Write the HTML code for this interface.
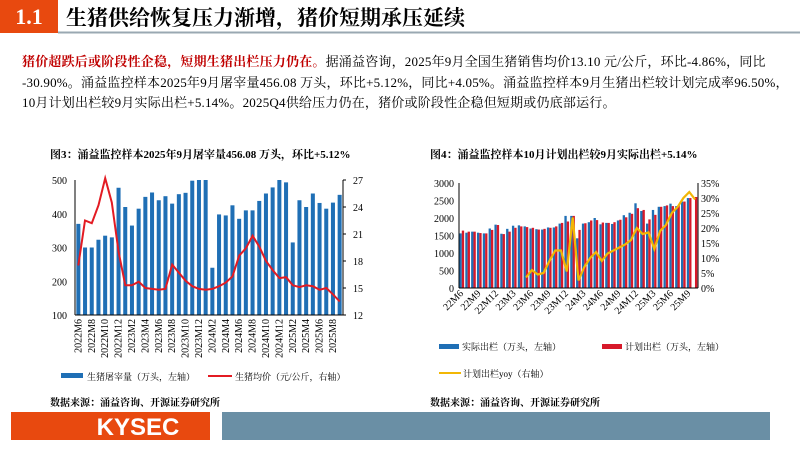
<!DOCTYPE html>
<html><head><meta charset="utf-8"><style>
body{margin:0;width:800px;height:450px;overflow:hidden;background:#fff;font-family:"Liberation Serif","Noto Serif CJK SC",serif}
svg text{font-family:"Liberation Serif","Noto Serif CJK SC",serif}
</style></head><body>
<svg id="s" width="800" height="450" xmlns="http://www.w3.org/2000/svg">
<rect x="0" y="0" width="58" height="33" fill="#e8490f"/>
<text x="29" y="24" font-size="22" font-weight="bold" fill="#fff" text-anchor="middle">1.1</text>
<text x="66" y="25" font-size="21" font-weight="bold" fill="#000">生猪供给恢复压力渐增，猪价短期承压延续</text>
<line x1="58" y1="32.5" x2="800" y2="32.5" stroke="#9aa8b2" stroke-width="2"/>
<g font-size="13" letter-spacing="0.2">
<text x="22" y="66"><tspan fill="#c00000" font-weight="bold">猪价超跌后或阶段性企稳，短期生猪出栏压力仍在。</tspan>据涌益咨询，2025年9月全国生猪销售均价13.10 元/公斤，环比-4.86%，同比</text>
<text x="22" y="87">-30.90%。涌益监控样本2025年9月屠宰量456.08 万头，环比+5.12%，同比+4.05%。涌益监控样本9月生猪出栏较计划完成率96.50%，</text>
<text x="22" y="107">10月计划出栏较9月实际出栏+5.14%。2025Q4供给压力仍在，猪价或阶段性企稳但短期或仍底部运行。</text>
</g>
<text x="50" y="158" font-size="11" font-weight="bold">图3：涌益监控样本2025年9月屠宰量456.08 万头，环比+5.12%</text>
<text x="430" y="158" font-size="11" font-weight="bold">图4：涌益监控样本10月计划出栏较9月实际出栏+5.14%</text>
<g id="L"></g><g id="R"></g>
<text x="50" y="406" font-size="10" font-weight="bold">数据来源：涌益咨询、开源证券研究所</text>
<text x="430" y="406" font-size="10" font-weight="bold">数据来源：涌益咨询、开源证券研究所</text>
<rect x="11" y="412" width="199" height="28" fill="#e8490f"/>
<text x="138" y="435" font-size="24" font-weight="bold" fill="#fff" text-anchor="middle" style="font-family:'Liberation Sans',sans-serif">KYSEC</text>
<rect x="222" y="412" width="548" height="28" fill="#6a8fa5"/>
</svg>
<script>
const leftMonths=[];for(let y=2022,m=6;!(y==2025&&m==10);){leftMonths.push(y+"M"+m);m++;if(m>12){m=1;y++;}}
const slaughter=[370,300,300,323,335,330,477,420,365,415,450,463,440,452,430,458,462,498,500,500,240,398,395,425,385,410,410,438,460,478,500,493,315,440,420,460,432,415,433,456];
const hogPrice=[17.5,22.5,22.2,24.2,27.2,24.5,19,15.3,15.3,15.7,15,14.9,14.8,14.9,17.6,16.7,15.8,15.2,14.9,14.8,14.9,15.2,15.6,16.3,18.6,19.4,20.8,19.6,18,17,16.1,16.2,15.3,15.1,15.3,15.2,14.8,15,14.3,13.5];
const leftTicks=[100,200,300,400,500];const rightTicks=[12,15,18,21,24,27];
const rightMonths=[];for(let y=22,m=6;!(y==25&&m==11);){rightMonths.push(y+"M"+m);m++;if(m>12){m=1;y++;}}
const actualOut=[1560,1580,1610,1580,1560,1700,1810,1550,1690,1780,1790,1760,1700,1680,1670,1730,1730,1840,2060,2060,1420,1840,1880,2000,1820,1860,1830,1930,2080,2150,2420,2200,1840,2230,2320,2340,2410,2340,2470,2570,null];
const planOut=[1640,1610,1610,1570,1560,1660,1800,1540,1610,1720,1760,1740,1720,1670,1690,1720,1760,1860,1900,2060,1660,1850,1930,1940,1870,1860,1880,1950,2020,2120,2280,2230,1960,2090,2320,2360,2340,2360,2470,2570,2600];
const planYoy=[null,null,null,null,null,null,null,null,null,null,null,3.5,6,4.5,5,9,12.5,12.5,5.5,23.5,2.5,7,10,12,9,11.5,12.5,13.5,14.5,16,20,18,18.5,13,19,21,25,27,30,32,29.5];
const rTicksL=[0,500,1000,1500,2000,2500,3000];const rTicksR=[0,5,10,15,20,25,30,35];
const NS="http://www.w3.org/2000/svg";
function mk(p,t,a,txt){const e=document.createElementNS(NS,t);for(const k in a)e.setAttribute(k,a[k]);if(txt!=null)e.textContent=txt;p.appendChild(e);return e;}
const L=document.getElementById('L');
const lx0=75,lx1=343,ly0=180,ly1=315;
const lbw=(lx1-lx0)/leftMonths.length;
const lX=i=>lx0+lbw*(i+0.5);
const lY=v=>ly1-(Math.min(v,500)-100)/400*(ly1-ly0);
const lY2=v=>ly1-(v-12)/15*(ly1-ly0);
leftTicks.forEach(t=>{const e=mk(L,'text',{x:lx0-8,y:lY(t)+4,'font-size':10,'text-anchor':'end'},t);

});
rightTicks.forEach(t=>{const e=mk(L,'text',{x:lx1+10,y:lY2(t)+4,'font-size':10},t);


mk(L,'line',{x1:lx1,x2:lx1+3,y1:lY2(t),y2:lY2(t),stroke:'#000'});});
slaughter.forEach((v,i)=>{const e=mk(L,'rect',{x:lX(i)-lbw*0.3,y:lY(v),width:lbw*0.6,height:ly1-lY(v),fill:'#1f6fb5'});

});
let d=hogPrice.map((v,i)=>(i?'L':'M')+lX(i).toFixed(1)+' '+lY2(v).toFixed(1)).join(' ');
const pl=mk(L,'path',{d:d,fill:'none',stroke:'#e31b23','stroke-width':2});


mk(L,'line',{x1:lx0,x2:lx0,y1:ly0,y2:ly1,stroke:'#000'});
mk(L,'line',{x1:lx1,x2:lx1,y1:ly0,y2:ly1,stroke:'#000'});
mk(L,'line',{x1:lx0,x2:lx1,y1:ly1,y2:ly1,stroke:'#000'});
leftMonths.forEach((m,i)=>{if(i%2)return;const x=lX(i)+3;const e=mk(L,'text',{x:x,y:ly1+4,'font-size':10,'text-anchor':'end',transform:`rotate(-90 ${x} ${ly1+4})`},m);

});
let g=mk(L,'g',{});
mk(g,'rect',{x:61,y:373,width:22,height:5,fill:'#1f6fb5'});mk(g,'text',{x:87,y:380,'font-size':9},'生猪屠宰量（万头，左轴）');
mk(g,'line',{x1:208,x2:232,y1:376,y2:376,stroke:'#e31b23','stroke-width':2});mk(g,'text',{x:235,y:380,'font-size':9},'生猪均价（元/公斤，右轴）');
const R=document.getElementById('R');
const rx0=459,rx1=698,ry0=183,ry1=288;
const rbw=(rx1-rx0)/rightMonths.length;
const rX=i=>rx0+rbw*(i+0.5);
const rY=v=>ry1-v/3000*(ry1-ry0);
const rY2=v=>ry1-v/35*(ry1-ry0);
rTicksL.forEach(t=>{const e=mk(R,'text',{x:rx0-5,y:rY(t)+4,'font-size':10,'text-anchor':'end'},t);

});
rTicksR.forEach(t=>{const e=mk(R,'text',{x:rx1+3,y:rY2(t)+4,'font-size':10},t+'%');

});
actualOut.forEach((v,i)=>{if(v==null)return;const e=mk(R,'rect',{x:rX(i)-rbw*0.42,y:rY(v),width:rbw*0.4,height:ry1-rY(v),fill:'#1f6fb5'});

});
planOut.forEach((v,i)=>{const e=mk(R,'rect',{x:rX(i)-rbw*0.02,y:rY(v),width:rbw*0.4,height:ry1-rY(v),fill:'#d7192a'});

});
let pts=[];planYoy.forEach((v,i)=>{if(v!=null)pts.push(rX(i).toFixed(1)+' '+rY2(v).toFixed(1));});
const yl=mk(R,'path',{d:'M'+pts.join(' L'),fill:'none',stroke:'#f2b705','stroke-width':2.2});


mk(R,'line',{x1:rx0,x2:rx0,y1:ry0,y2:ry1,stroke:'#000'});
mk(R,'line',{x1:rx1,x2:rx1,y1:ry0,y2:ry1,stroke:'#000'});
mk(R,'line',{x1:rx0,x2:rx1,y1:ry1,y2:ry1,stroke:'#000'});
rightMonths.forEach((m,i)=>{if(i%3)return;const x=rX(i)+2;const e=mk(R,'text',{x:x,y:ry1+6,'font-size':10,'text-anchor':'end',transform:`rotate(-45 ${x} ${ry1+6})`},m);

});
g=mk(R,'g',{});
mk(g,'rect',{x:439,y:344,width:20,height:5,fill:'#1f6fb5'});mk(g,'text',{x:462,y:350,'font-size':9},'实际出栏（万头，左轴）');
mk(g,'rect',{x:602,y:344,width:20,height:5,fill:'#d7192a'});mk(g,'text',{x:625,y:350,'font-size':9},'计划出栏（万头，左轴）');
mk(g,'line',{x1:439,x2:461,y1:373,y2:373,stroke:'#f2b705','stroke-width':2});mk(g,'text',{x:463,y:377,'font-size':9},'计划出栏yoy（右轴）');
</script>
</body></html>
